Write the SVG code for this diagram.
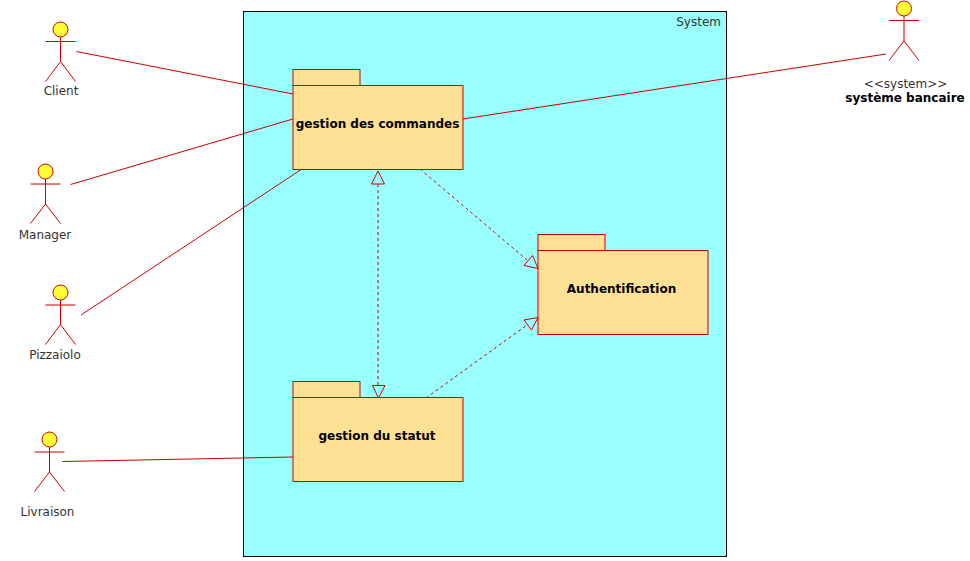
<svg xmlns="http://www.w3.org/2000/svg" width="970" height="561" viewBox="0 0 970 561">
<style>
text{font-family:"DejaVu Sans",Verdana,sans-serif;font-size:12px;fill:#333}
.b{font-weight:bold;fill:#000;text-anchor:middle}
.c{text-anchor:middle}
.l{stroke:#c00;fill:none;stroke-width:1}
.d{stroke-dasharray:3 3}
.p{fill:#ffe196;stroke:#c00;stroke-width:1}
.h{fill:#ffff33;stroke:#c00;stroke-width:1}
.a{fill:none;stroke:#c00;stroke-width:1}
</style>
<g id="system"><rect x="243.500" y="11.500" width="483" height="545" fill="#99ffff" stroke="#000"/><text x="721" y="26" text-anchor="end">System</text></g>
<g id="connectors">
<path class="l" d="M76.500 51.500L293 94"/>
<path class="l" d="M70.500 184.500L293 119"/>
<path class="l" d="M81 315L302 169"/>
<path class="l" d="M62.500 461.500L293 457"/>
<path class="l" d="M463 119L886 54"/>
<path class="l d" d="M378 184V385"/>
<path class="l d" d="M420 169L527 260"/>
<path class="l d" d="M426 398L527 325"/>
<path class="a" d="M378 171L384.500 184H371.500Z"/>
<path class="a" d="M378.500 398L372.500 385.500H385Z"/>
<path class="a" d="M538 268.500L524 265.500L532.500 255.500Z"/>
<path class="a" d="M538 317.500L524 320L531.500 330Z"/>
</g>
<g id="gestion-commandes"><rect class="p" x="293" y="69.500" width="67" height="16"/><rect class="p" x="293" y="85.500" width="170" height="84"/><text class="b" x="377.500" y="128">gestion des commandes</text></g>
<g id="authentification"><rect class="p" x="538" y="234.500" width="67" height="16"/><rect class="p" x="538" y="250.500" width="170" height="84"/><text class="b" x="621.500" y="293">Authentification</text></g>
<g id="gestion-statut"><rect class="p" x="293" y="381.500" width="67" height="16"/><rect class="p" x="293" y="397.500" width="170" height="84"/><text class="b" x="377" y="440">gestion du statut</text></g>
<g id="client"><circle class="h" cx="60.500" cy="29.500" r="7.500"/><path class="a" d="M60.500 37V61.500M45.500 41.500H75.500M60.500 61.500L45.500 81.500M60.500 61.500L75.500 81.500"/><text class="c" x="61" y="95">Client</text></g>
<g id="manager"><circle class="h" cx="45.500" cy="171.500" r="7.500"/><path class="a" d="M45.500 179V204M30.500 184H60.500M45.500 204L30.500 223.500M45.500 204L60.500 223.500"/><text class="c" x="45" y="239">Manager</text></g>
<g id="pizzaiolo"><circle class="h" cx="60.500" cy="292.500" r="7.500"/><path class="a" d="M60.500 300V324.500M45.500 305H75.500M60.500 324.500L45.500 344.500M60.500 324.500L75.500 344.500"/><text class="c" x="55" y="359">Pizzaiolo</text></g>
<g id="livraison"><circle class="h" cx="49.500" cy="439.500" r="7.500"/><path class="a" d="M49.500 447V472M34.500 452H64.500M49.500 472L34.500 491.500M49.500 472L64.500 491.500"/><text class="c" x="47.500" y="516">Livraison</text></g>
<g id="systeme-bancaire"><circle class="h" cx="904" cy="8.500" r="7.500"/><path class="a" d="M904 16V41M889 20.500H919M904 41L889 60.500M904 41L919 60.500"/><text class="c" x="905.500" y="88">&lt;&lt;system&gt;&gt;</text><text class="b" x="905" y="102">système bancaire</text></g>
</svg>
